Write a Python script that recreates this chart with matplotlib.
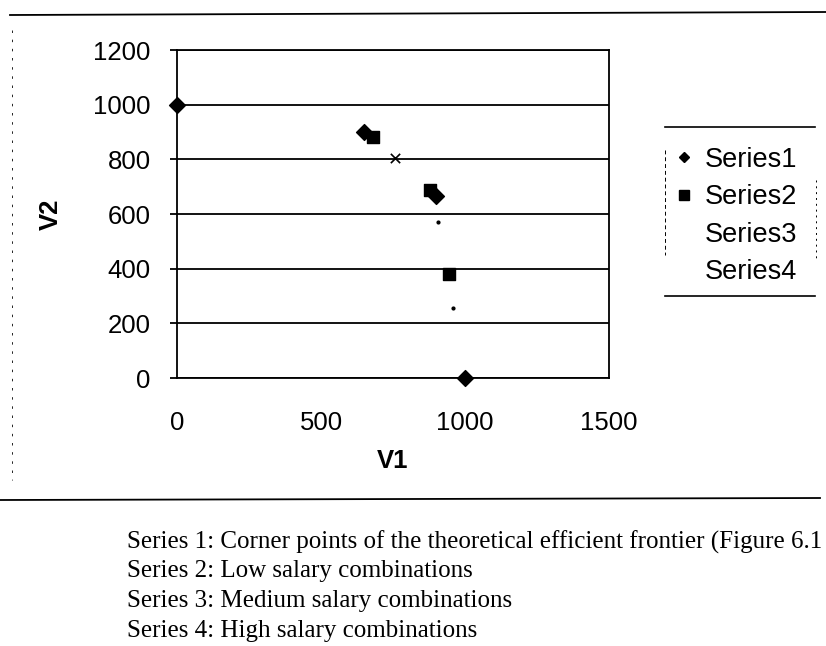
import matplotlib
matplotlib.use("Agg")
import matplotlib.pyplot as plt
from matplotlib.lines import Line2D

# Data
s1_x = [0, 650, 900, 1000]
s1_y = [1000, 900, 665, 0]
s2_x = [680, 878, 945]
s2_y = [880, 688, 380]
s3_x = [757]
s3_y = [805]
s4_x = [905, 960]
s4_y = [572, 255]
series_names = ["Series1", "Series2", "Series3", "Series4"]
x_ticks = [0, 500, 1000, 1500]
y_ticks = [0, 200, 400, 600, 800, 1000, 1200]
captions = [
    "Series 1: Corner points of the theoretical efficient frontier (Figure 6.1",
    "Series 2: Low salary combinations",
    "Series 3: Medium salary combinations",
    "Series 4: High salary combinations",
]

W, H = 826, 646
fig = plt.figure(figsize=(W / 100, H / 100), dpi=100)
fig.patch.set_facecolor("white")
sans = "Liberation Sans"
serif = "Liberation Serif"

ax = fig.add_axes([177 / W, 1 - 378 / H, 432 / W, 328 / H])
ax.set_xlim(0, 1500)
ax.set_ylim(0, 1200)
ax.set_xticks(x_ticks)
ax.set_yticks(y_ticks)
ax.yaxis.grid(True, color="black", linewidth=1.3)
ax.set_axisbelow(True)
for sp in ax.spines.values():
    sp.set_color("black")
    sp.set_linewidth(1.3)
ax.tick_params(axis="x", length=0, pad=24, labelsize=18.5)
ax.tick_params(axis="y", length=5, width=1.3, pad=14, labelsize=18.5)
for lab in ax.get_xticklabels() + ax.get_yticklabels():
    lab.set_fontfamily(sans)

ax.scatter(s1_x, s1_y, marker="D", s=65, color="black", clip_on=False, zorder=3)
ax.scatter(s2_x, s2_y, marker="s", s=75, color="black", clip_on=False, zorder=3)
ax.scatter(s3_x, s3_y, marker="x", s=45, color="black", linewidths=1.2, zorder=3)
ax.scatter(s4_x, s4_y, marker="o", s=4, color="black", zorder=3)

ax.set_xlabel("V1", fontsize=18.5, fontweight="bold", fontfamily=sans, labelpad=10)
ax.set_ylabel("V2", fontsize=18.5, fontweight="bold", fontfamily=sans, labelpad=22)

handles = [
    Line2D([], [], marker="D", linestyle="none", color="black", markersize=5.5),
    Line2D([], [], marker="s", linestyle="none", color="black", markersize=6.5),
    Line2D([], [], marker="none", linestyle="none", color="black"),
    Line2D([], [], marker="none", linestyle="none", color="black"),
]
leg = fig.legend(handles, series_names, loc="upper left",
                 bbox_to_anchor=(665 / W, 1 - 136 / H), frameon=False,
                 prop={"family": sans, "size": 19.5}, handlelength=0.6,
                 handletextpad=0.45, labelspacing=0.42, borderaxespad=0)
# legend box lines
fig.add_artist(Line2D([665 / W, 815 / W], [1 - 127 / H, 1 - 127 / H], color="black", lw=1.2))
fig.add_artist(Line2D([665 / W, 815 / W], [1 - 296 / H, 1 - 296 / H], color="black", lw=1.2))
fig.add_artist(Line2D([665 / W, 665 / W], [1 - 150 / H, 1 - 255 / H], color="black", lw=0.7, ls=(0, (4, 3))))
fig.add_artist(Line2D([816 / W, 816 / W], [1 - 180 / H, 1 - 260 / H], color="black", lw=0.7, ls=(0, (2, 4))))

# outer chart frame
fig.add_artist(Line2D([10 / W, 826 / W], [1 - 15 / H, 1 - 12 / H], color="black", lw=1.3))
fig.add_artist(Line2D([0 / W, 820 / W], [1 - 500 / H, 1 - 498 / H], color="black", lw=1.3))
fig.add_artist(Line2D([12 / W, 12 / W], [1 - 30 / H, 1 - 480 / H], color="black", lw=0.6, ls=(0, (3, 8))))

# captions
for i, txt in enumerate(captions):
    fig.text(127 / W, 1 - (542 + 29.5 * i) / H, txt, fontsize=18, fontfamily=serif,
             va="center", ha="left")

fig.savefig("out.png", dpi=100)
